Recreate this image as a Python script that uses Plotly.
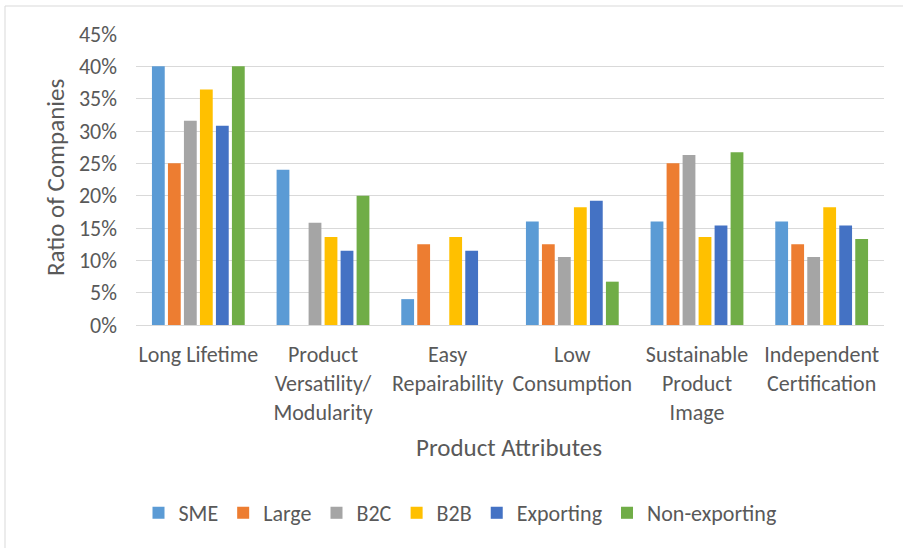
import plotly.graph_objects as go

categories = ["Long Lifetime", "Product<br>Versatility/<br>Modularity", "Easy<br>Repairability",
              "Low<br>Consumption", "Sustainable<br>Product<br>Image", "Independent<br>Certification"]
sme = [0.40, 0.24, 0.04, 0.16, 0.16, 0.16]
large = [0.25, 0.0, 0.125, 0.125, 0.25, 0.125]
b2c = [0.316, 0.158, 0.0, 0.105, 0.263, 0.105]
b2b = [0.364, 0.136, 0.136, 0.182, 0.136, 0.182]
exporting = [0.308, 0.115, 0.115, 0.192, 0.154, 0.154]
non_exporting = [0.40, 0.20, 0.0, 0.067, 0.267, 0.133]

series = [("SME", sme, "#5B9BD5"), ("Large", large, "#ED7D31"), ("B2C", b2c, "#A5A5A5"),
          ("B2B", b2b, "#FFC000"), ("Exporting", exporting, "#4472C4"),
          ("Non-exporting", non_exporting, "#70AD47")]

FONT = "Carlito, Lato, sans-serif"
fig = go.Figure()
for name, vals, col in series:
    fig.add_trace(go.Bar(x=categories, y=vals, name=name, marker=dict(color=col, line=dict(width=0))))

W, H = 903, 548
L, R, T, B = 136, 19, 34, 223
pw, ph = W - L - R, H - T - B

def px(x):
    return (x - L) / pw

def py(y):
    return (H - B - y) / ph

fig.update_layout(
    width=W, height=H, margin=dict(l=L, r=R, t=T, b=B),
    paper_bgcolor="white", plot_bgcolor="white",
    barmode="group", bargap=0.23, bargroupgap=0.2,
    font=dict(family=FONT, color="#595959", size=22),
    xaxis=dict(showgrid=False, showline=True, linecolor="#d9d9d9", linewidth=1,
               ticks="", tickfont=dict(size=22, color="#595959"), ticklabelstandoff=10),
    yaxis=dict(range=[0, 0.45], dtick=0.05, tickformat=".0%", showgrid=True,
               gridcolor="#d9d9d9", gridwidth=1, zeroline=False, showline=False,
               ticks="", tickfont=dict(size=22, color="#595959"), ticklabelstandoff=18),
    legend=dict(orientation="h", x=px(460), y=py(513), xanchor="center", yanchor="middle",
                font=dict(size=22, color="#595959"), traceorder="normal",
                itemwidth=30, itemsizing="constant"),
    showlegend=True,
)
fig.add_annotation(text="Product Attributes", x=px(509), y=py(447), xref="paper", yref="paper",
                   showarrow=False, font=dict(size=25, color="#595959"), xanchor="center", yanchor="middle")
fig.add_annotation(text="Ratio of Companies", x=px(55), y=py(178), xref="paper", yref="paper",
                   showarrow=False, textangle=-90, font=dict(size=25, color="#595959"),
                   xanchor="center", yanchor="middle")
fig.add_shape(type="rect", xref="paper", yref="paper", x0=px(5), y0=py(560), x1=px(915), y1=py(6),
              line=dict(color="#d9d9d9", width=1), layer="below")
fig.write_html("out.html")
